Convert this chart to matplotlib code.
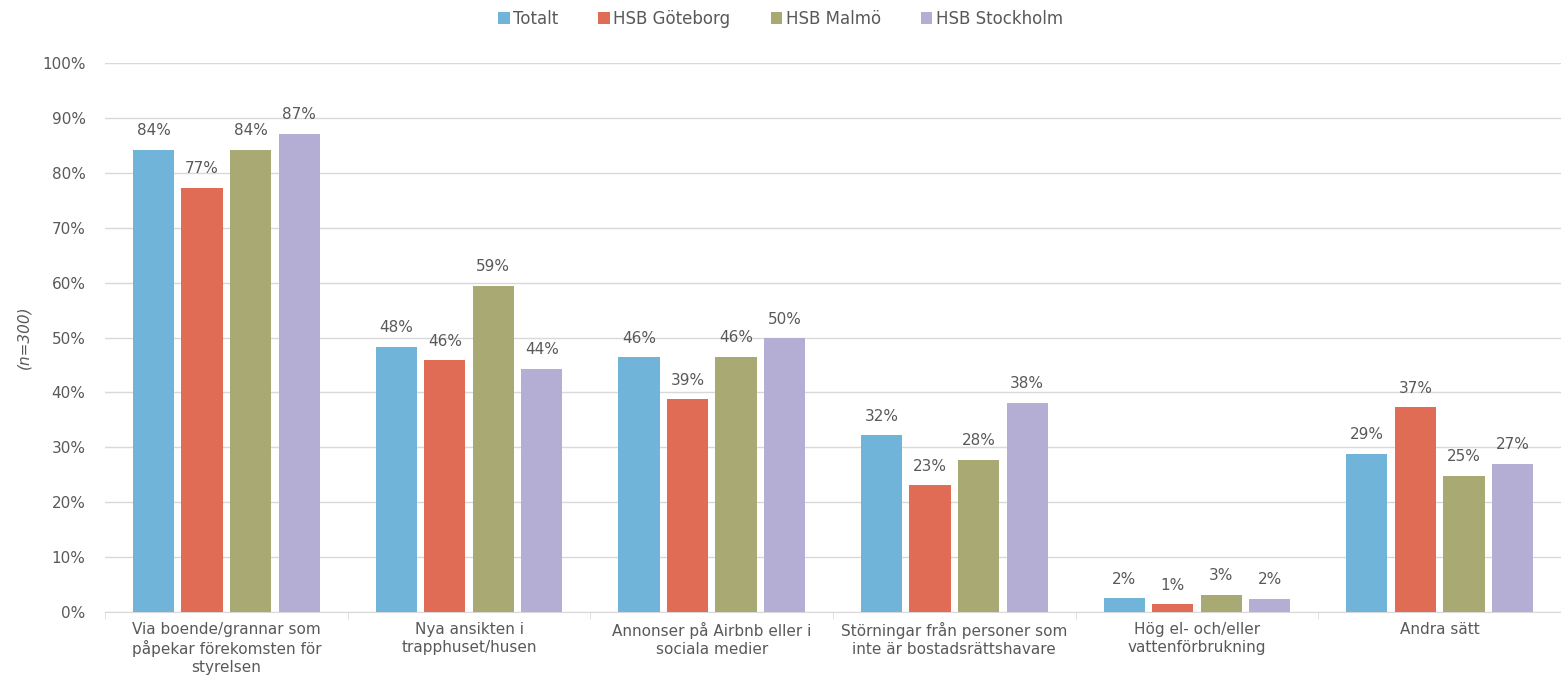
import matplotlib.pyplot as plt
import numpy as np

plt.rcParams['font.family'] = ['DejaVu Sans']

text_color = '#595959'
font_size = 11

categories = ['Via boende/grannar som\npåpekar förekomsten för\nstyrelsen',
              'Nya ansikten i\ntrapphuset/husen',
              'Annonser på Airbnb eller i\nsociala medier',
              'Störningar från personer som\ninte är bostadsrättshavare',
              'Hög el- och/eller\nvattenförbrukning',
              'Andra sätt']

series_names = ['Totalt', 'HSB Göteborg', 'HSB Malmö', 'HSB Stockholm']
totalt = [84.2, 48.3, 46.4, 32.2, 2.5, 28.8]
goteborg = [77.3, 45.9, 38.8, 23.1, 1.4, 37.3]
malmo = [84.2, 59.4, 46.5, 27.7, 3.1, 24.8]
stockholm = [87.1, 44.3, 49.9, 38.1, 2.4, 27.0]
colors = ['#70B4DA', '#E06C55', '#A9A974', '#B4ADD4']

fig = plt.figure(figsize=(15.61, 6.79), dpi=100)
ax = fig.add_axes([0.0673, 0.0987, 0.9327, 0.8083])

x = np.arange(len(categories))
slot = 0.2
width = 0.17
for i, (vals, name, c) in enumerate(zip([totalt, goteborg, malmo, stockholm], series_names, colors)):
    pos = x + (i - 1.5) * slot
    ax.bar(pos, vals, width=width, color=c, label=name, zorder=3)
    for p, v in zip(pos, vals):
        ax.text(p, v + 2.1, '%d%%' % round(v), ha='center', va='bottom',
                fontsize=font_size, color=text_color)

ax.set_xlim(-0.5, len(categories) - 0.5)
ax.set_ylim(0, 100)
ax.set_yticks(np.arange(0, 101, 10))
ax.set_yticklabels(['%d%%' % t for t in range(0, 101, 10)])
ax.set_xticks(x)
ax.set_xticklabels(categories, linespacing=1.25)
ax.set_xticks(np.arange(-0.5, len(categories)), minor=True)
ax.tick_params(axis='x', which='major', length=0, pad=7, labelsize=font_size, labelcolor=text_color)
ax.tick_params(axis='x', which='minor', length=5, color='#D9D9D9')
ax.tick_params(axis='y', length=0, pad=14, labelsize=font_size, labelcolor=text_color)

ax.grid(axis='y', color='#D9D9D9', linewidth=1, zorder=0)
for s in ['top', 'right', 'left']:
    ax.spines[s].set_visible(False)
ax.spines['bottom'].set_color('#D9D9D9')

ax.set_ylabel('(n=300)', fontsize=font_size, color=text_color, style='italic', labelpad=8)

fig.legend(loc='upper center', bbox_to_anchor=(0.5, 1.008), ncol=4, frameon=False,
           fontsize=12, labelcolor=text_color, handlelength=0.7, handleheight=0.7,
           handletextpad=0.2, columnspacing=2.4)

plt.savefig('out.png', dpi=100)
